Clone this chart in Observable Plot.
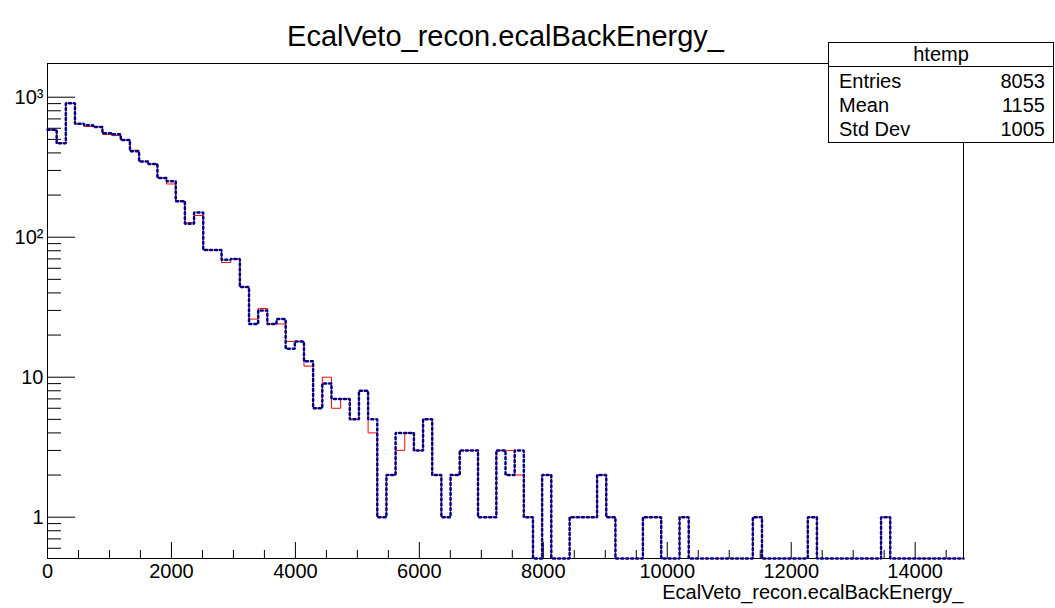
<!DOCTYPE html>
<html>
<head>
<meta charset="utf-8">
<script src="https://cdn.jsdelivr.net/npm/d3@7"></script>
<script src="https://cdn.jsdelivr.net/npm/@observablehq/plot@0.6"></script>
<style>
  body { margin: 0; background: #fff; }
  #wrap { position: relative; width: 1055px; height: 608px; font-family: "Liberation Sans", Arial, sans-serif; }
  #wrap svg { position: absolute; left: 0; top: 0; }
  #stats { position: absolute; left: 828px; top: 42px; width: 226px; height: 101px; border: 1px solid #000; background: #fff; box-sizing: border-box; font-size: 20px; color: #000; }
  #stats .hdr { position: absolute; left: 0; right: 0; top: 0; height: 23px; line-height: 23px; text-align: center; border-bottom: 1px solid #000; }
  #stats .row { position: absolute; left: 10px; right: 8px; height: 24px; line-height: 24px; }
  #stats .row .v { position: absolute; right: 0; top: 0; }
</style>
</head>
<body>
<div id="wrap"></div>
<script>
// ---- data ----
const title = "EcalVeto_recon.ecalBackEnergy_";
const xLabel = "EcalVeto_recon.ecalBackEnergy_";
const xMin = 0, xMax = 14780;
const yMin = 0.507, yMax = 1741;

const redCounts = [
  585, 469, 906, 646, 618, 618, 542, 532, 493, 418,
  348, 333, 265, 240, 181, 127, 143, 81, 81, 66,
  70, 44, 26, 31, 24, 24, 18, 18, 12, 6,
  10, 6, 7, 5, 8, 4, 1, 2, 3, 4,
  3, 5, 2, 1, 2, 3, 3, 1, 1, 3,
  3, 2, 1, 0, 2, 0, 0, 1, 1, 1,
  2, 1, 0, 0, 0, 1, 1, 0, 0, 1,
  0, 0, 0, 0, 0, 0, 0, 1, 0, 0,
  0, 0, 0, 1, 0, 0, 0, 0, 0, 0,
  0, 1, 0, 0, 0, 0, 0, 0, 0, 0
];
const blueCounts = [
  585, 469, 906, 646, 630, 612, 553, 544, 495, 411,
  348, 333, 265, 251, 181, 125, 150, 81, 81, 69,
  70, 44, 24, 30, 24, 26, 16, 18, 13, 6,
  9, 7, 7, 5, 8, 5, 1, 2, 4, 4,
  3, 5, 2, 1, 2, 3, 3, 1, 1, 3,
  2, 3, 1, 0, 2, 0, 0, 1, 1, 1,
  2, 1, 0, 0, 0, 1, 1, 0, 0, 1,
  0, 0, 0, 0, 0, 0, 0, 1, 0, 0,
  0, 0, 0, 1, 0, 0, 0, 0, 0, 0,
  0, 1, 0, 0, 0, 0, 0, 0, 0, 0
];

const xMajor = [0, 2000, 4000, 6000, 8000, 10000, 12000, 14000];
const xMinor = [500,1000,1500,2500,3000,3500,4500,5000,5500,6500,7000,7500,8500,9000,9500,10500,11000,11500,12500,13000,13500,14500];
const yMajor = [1, 10, 100, 1000];
const yMajorLabels = ["1", "10", "10²", "10³"];
const yMinor = [0.6,0.7,0.8,0.9, 2,3,4,5,6,7,8,9, 20,30,40,50,60,70,80,90, 200,300,400,500,600,700,800,900];

const statsName = "htemp";
const statsLabels = ["Entries", "Mean", "Std Dev"];
const statsValues = ["8053", "1155", "1005"];

// ---- build step outline ----
function steps(counts) {
  const w = (xMax - xMin) / counts.length;
  const pts = counts.map((c, i) => ({ x: xMin + i * w, y: Math.max(c, yMin) }));
  pts.push({ x: xMax, y: Math.max(counts[counts.length - 1], yMin) });
  return pts;
}
const yLabelMap = new Map(yMajor.map((v, i) => [v, yMajorLabels[i]]));

const chart = Plot.plot({
  width: 1055, height: 608,
  marginLeft: 47, marginRight: 92, marginTop: 63, marginBottom: 50,
  style: { fontFamily: "'Liberation Sans', Arial, sans-serif", background: "transparent", overflow: "visible", color: "#000" },
  x: { type: "linear", domain: [xMin, xMax], label: null },
  y: { type: "log", domain: [yMin, yMax], label: null },
  marks: [
    Plot.frame({ stroke: "#000" }),
    Plot.axisX(xMinor, { tickSize: -8, tickFormat: () => "", label: null }),
    Plot.axisX(xMajor, { tickSize: -16, tickFormat: () => "", label: null }),
    Plot.axisX(xMajor, { tickSize: 0, tickPadding: 5, fontSize: 20, tickFormat: d => String(d), label: null }),
    Plot.axisY(yMinor, { tickSize: -14, tickFormat: () => "", label: null }),
    Plot.axisY(yMajor, { tickSize: -28, tickFormat: () => "", label: null }),
    Plot.axisY(yMajor, { tickSize: 0, tickPadding: 4, fontSize: 20, tickFormat: d => yLabelMap.get(d), label: null }),
    Plot.line(steps(redCounts), { x: "x", y: "y", curve: "step-after", stroke: "#ff0000", strokeWidth: 1 }),
    Plot.line(steps(blueCounts), { x: "x", y: "y", curve: "step-after", stroke: "#00008b", strokeWidth: 2.5, strokeDasharray: "2,3", strokeLinejoin: "miter" }),
    Plot.text([title], { frameAnchor: "top", dy: -38, fontSize: 29, fill: "#000" }),
    Plot.text([xLabel], { frameAnchor: "bottom-right", dy: 40, textAnchor: "end", fontSize: 20, fill: "#000" })
  ]
});

const wrap = document.getElementById("wrap");
wrap.appendChild(chart);

// stats box
const box = document.createElement("div");
box.id = "stats";
const hdr = document.createElement("div");
hdr.className = "hdr";
hdr.textContent = statsName;
box.appendChild(hdr);
statsLabels.forEach((lab, i) => {
  const r = document.createElement("div");
  r.className = "row";
  r.style.top = (26 + i * 24) + "px";
  const l = document.createElement("span");
  l.textContent = lab;
  const v = document.createElement("span");
  v.className = "v";
  v.textContent = statsValues[i];
  r.appendChild(l); r.appendChild(v);
  box.appendChild(r);
});
wrap.appendChild(box);
</script>
</body>
</html>
